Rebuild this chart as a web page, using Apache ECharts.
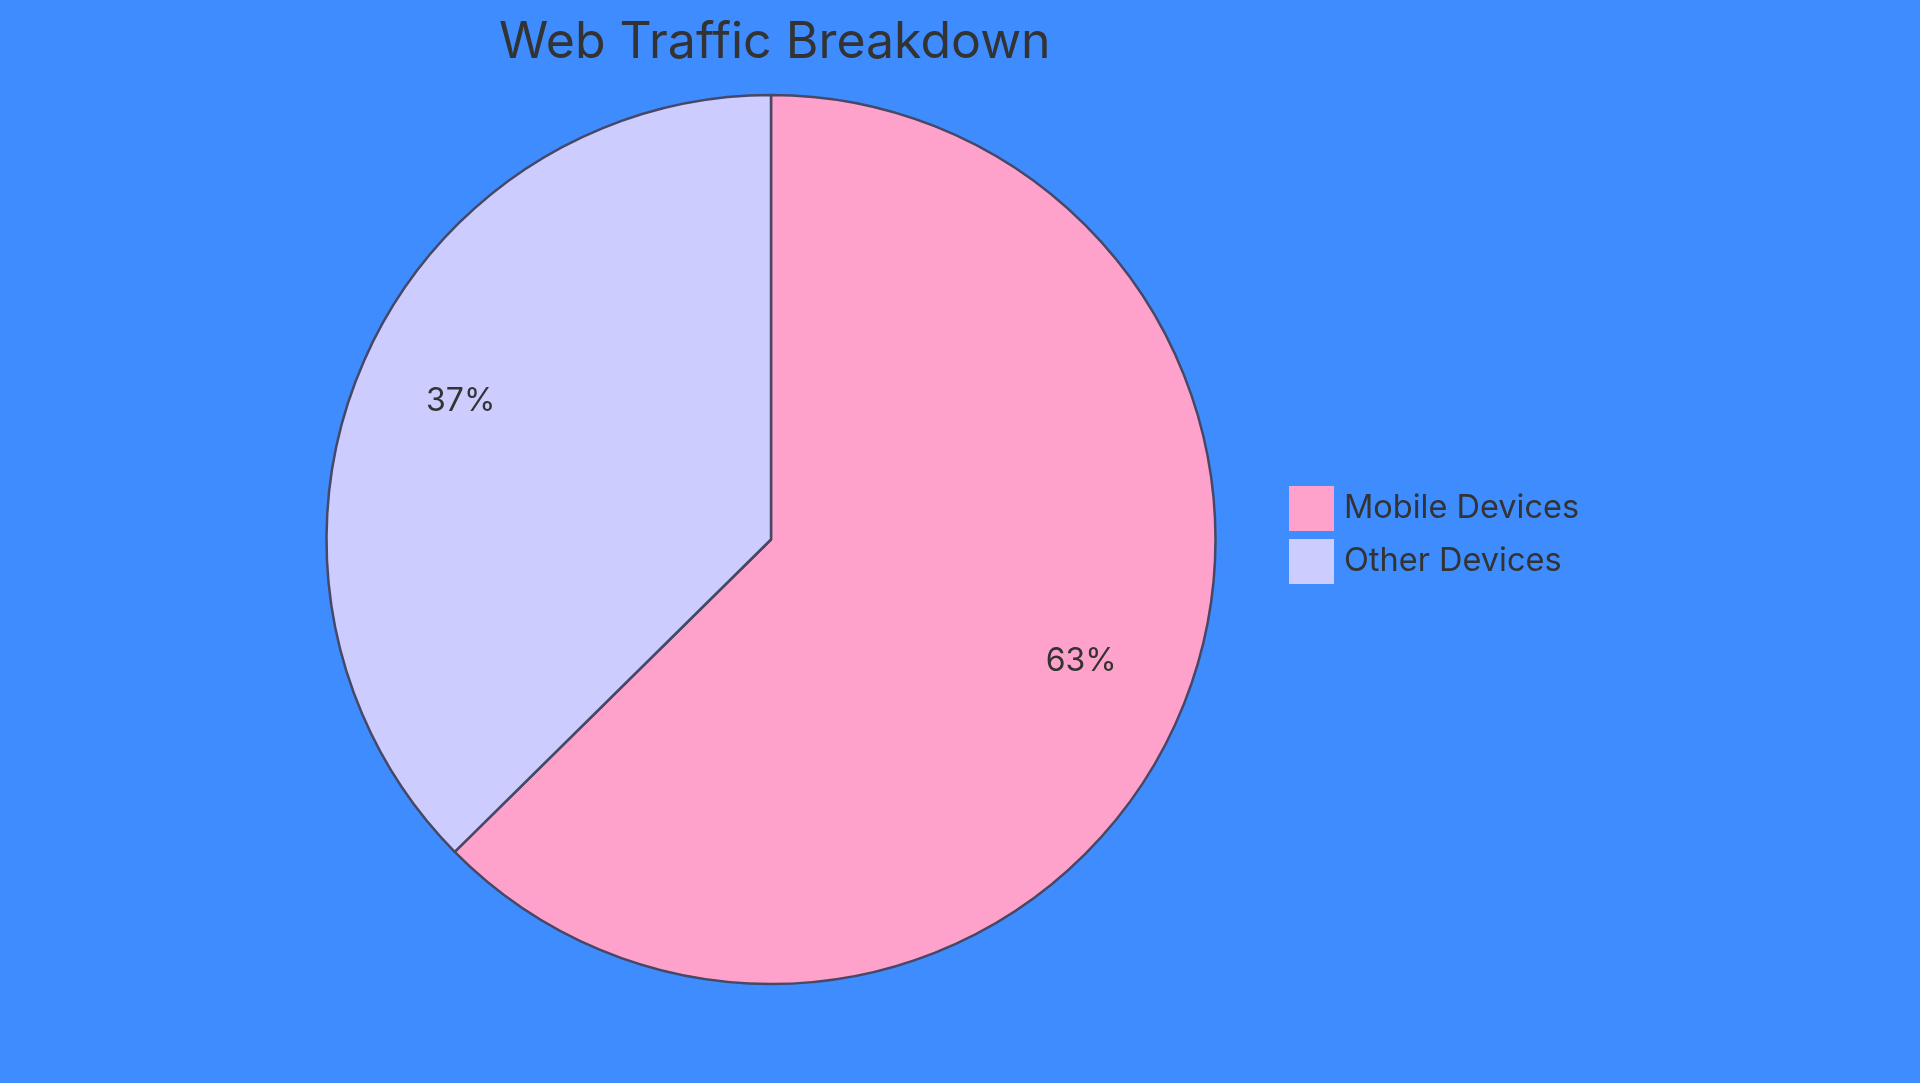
<!DOCTYPE html>
<html>
<head>
<meta charset="utf-8">
<title>Web Traffic Breakdown</title>
<script src="https://cdn.jsdelivr.net/npm/echarts@6/dist/echarts.min.js"></script>
<style>
    html, body { margin: 0; padding: 0; background: #3F8CFF; }
    #chart { width: 1920px; height: 1083px; }
</style>
</head>
<body>
<div id="chart"></div>
<script>
// data (slice edge sits at ~225.5 deg, labels rounded)
const categories = ['Mobile Devices', 'Other Devices'];
const shares = [62.6, 37.4];
const sliceColors = ['#FFA2CB', '#CCCCFF'];

const pieData = categories.map((name, i) => ({
    name: name,
    value: shares[i],
    itemStyle: { color: sliceColors[i] }
}));

const chart = echarts.init(document.getElementById('chart'));

const option = {
    animation: false,
    backgroundColor: '#3F8CFF',
    textStyle: { fontFamily: 'Inter' },
    title: {
        text: 'Web Traffic Breakdown',
        left: 494,
        top: 13,
        textStyle: {
            fontFamily: 'Inter',
            fontSize: 50,
            fontWeight: 'normal',
            color: '#333333'
        }
    },
    legend: {
        orient: 'vertical',
        left: 1289,
        top: 486,
        padding: 0,
        icon: 'rect',
        itemWidth: 45,
        itemHeight: 45,
        itemGap: 8,
        selectedMode: false,
        itemStyle: { borderWidth: 0 },
        textStyle: {
            fontFamily: 'Inter',
            fontSize: 32.5,
            color: '#333333',
            padding: [0, 0, 0, 5]
        },
        data: categories
    },
    series: [
        {
            // the pie itself
            name: 'traffic',
            type: 'pie',
            center: [771, 539.5],
            radius: 444.5,
            startAngle: 90,
            clockwise: true,
            label: { show: false },
            labelLine: { show: false },
            itemStyle: { borderColor: '#474766', borderWidth: 2.5 },
            emphasis: { disabled: true },
            data: pieData
        },
        {
            // transparent ring, only used to put the labels at 3/4 radius
            name: 'labels',
            type: 'pie',
            center: [771, 539.5],
            radius: [222, 444.5],
            startAngle: 90,
            clockwise: true,
            silent: true,
            legendHoverLink: false,
            itemStyle: { color: 'rgba(0,0,0,0)', borderWidth: 0 },
            label: {
                show: true,
                position: 'inside',
                offset: [0, -8],
                formatter: p => Math.round(p.percent) + '%',
                fontFamily: 'Inter',
                fontSize: 32,
                color: '#333333'
            },
            labelLine: { show: false },
            emphasis: { disabled: true },
            data: categories.map((name, i) => ({ name: name, value: shares[i] }))
        }
    ]
};

chart.setOption(option);
</script>
</body>
</html>
